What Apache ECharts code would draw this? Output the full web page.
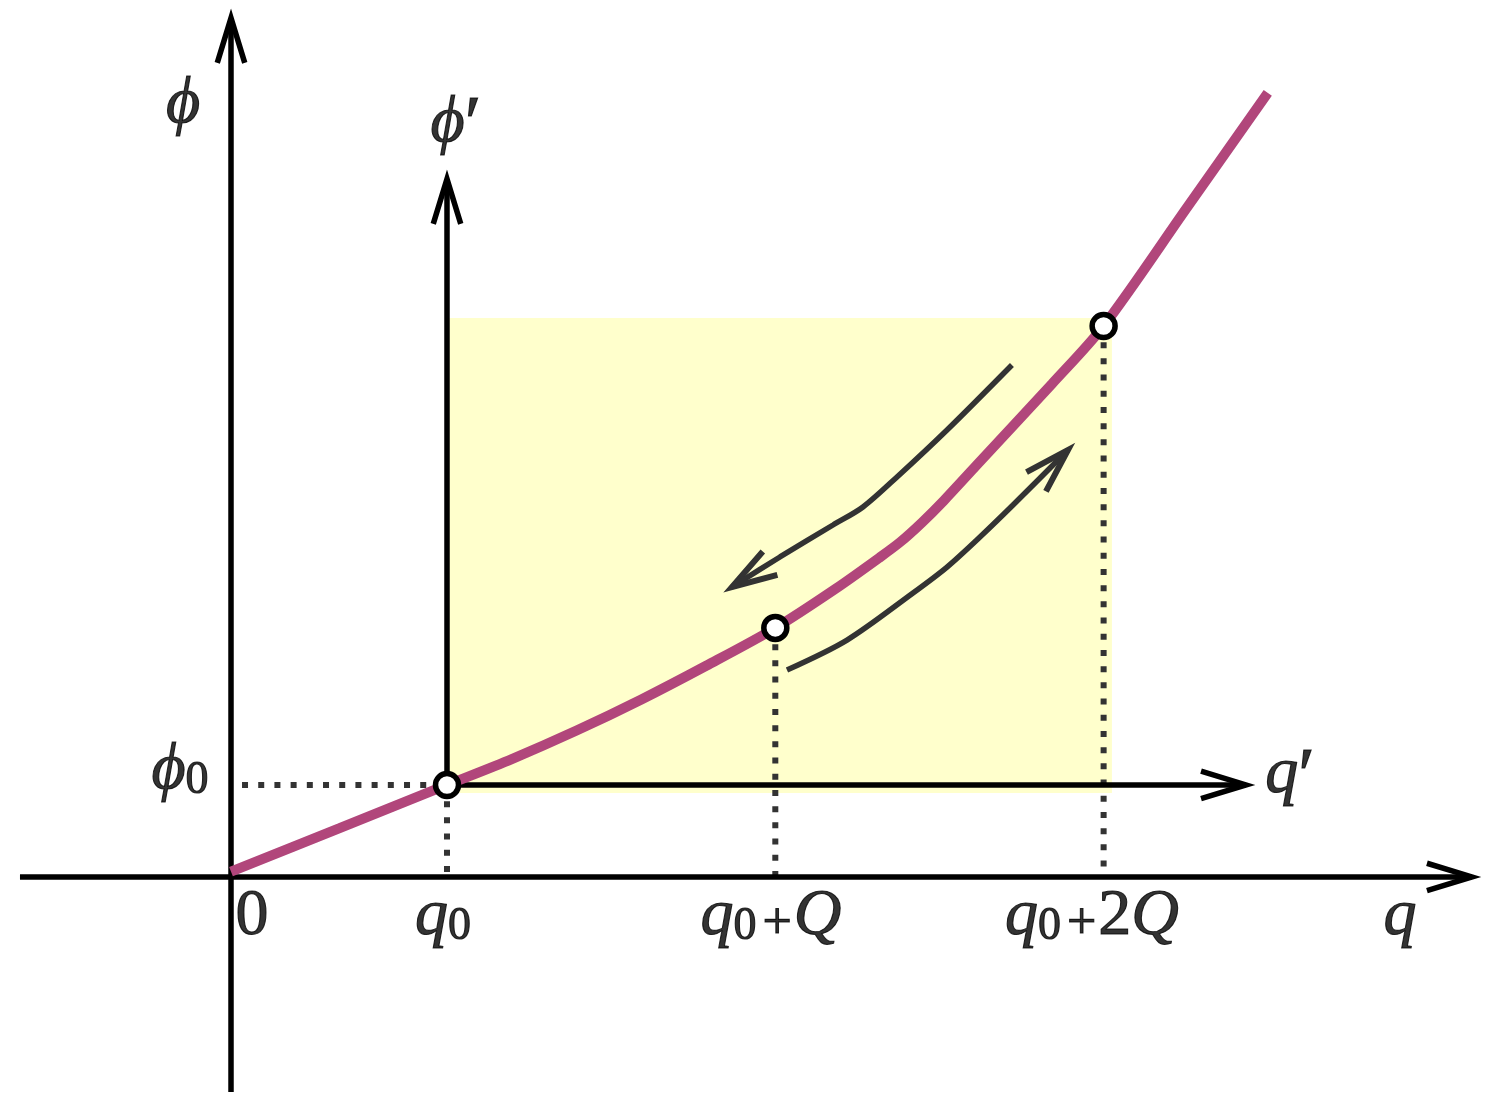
<!DOCTYPE html>
<html>
<head>
<meta charset="utf-8">
<script src="https://cdn.jsdelivr.net/npm/echarts@6/dist/echarts.min.js"></script>
<style>
html,body{margin:0;padding:0;background:#fff;}
#chart{width:1495px;height:1116px;}
</style>
</head>
<body>
<div id="chart"></div>
<script>
// ---- data (diagram units) ----
const qRange = [-2.139, 11.704];
const phiRange = [-2.213, 8.12];

const keyQ = [2.0, 5.04, 8.08];          // q0, q0+Q, q0+2Q
const keyPhi = [0.852, 2.306, 5.102];    // phi at those points

const curveQ   = [0, 1, 2, 2.6, 3.2, 3.8, 4.4, 5.04, 5.6, 6.0, 6.2, 6.4, 6.6, 6.9, 7.6, 8.08, 8.85, 9.6];
const curvePhi = [0.05, 0.45, 0.852, 1.092, 1.356, 1.644, 1.956, 2.306, 2.67, 2.954, 3.104, 3.284, 3.484, 3.808, 4.564, 5.102, 6.195, 7.259];

const downQ   = [7.231, 6.630, 6.167, 5.852, 5.574, 5.083, 4.639];
const downPhi = [4.741, 4.139, 3.704, 3.426, 3.259, 2.963, 2.685];
const upQ     = [5.148, 5.704, 6.315, 6.630, 6.935, 7.241, 7.75];
const upPhi   = [1.917, 2.194, 2.630, 2.870, 3.148, 3.444, 3.954];

const rectQ   = [2.0, 8.157];
const rectPhi = [0.778, 5.176];

// axes: [startQ, startPhi, tipQ, tipPhi]
const axesLines = [
  [-1.954, 0, 11.49, 0],
  [0, -1.991, 0, 7.954],
  [2.0, 0.852, 9.398, 0.852],
  [2.0, 0.852, 2.0, 6.463]
];

// dotted guides: [fromQ, fromPhi, toQ, toPhi]
const guides = [
  [0.102, 0.852, 2.0, 0.852],
  [2.0, 0.852, 2.0, 0],
  [5.04, 2.306, 5.04, 0],
  [8.08, 5.102, 8.08, 0]
];

const tickText = ['{r|0}', '{i|q}{s|0}', '{i|q}{s|0}{p|+}{i|Q}', '{i|q}{s|0}{p|+}{r|2}{i|Q}'];
const tickQ = [0.194, 1.963, 5.0, 7.972];
const tickPhi = [-0.37, -0.37, -0.37, -0.37];

const nameText = ['{i|ϕ}', '{i|ϕ}{pr|′}', '{i|ϕ}{s|0}', '{i|q}', '{i|q}{pr|′}'];
const nameQ = [-0.444, 2.083, -0.472, 10.824, 9.806];
const namePhi = [7.15, 6.977, 0.986, -0.37, 0.944];

// ---- drawing ----
const FONT = "'Liberation Serif', 'DejaVu Serif', serif";
const ink = {color: '#000', textBorderColor: '#000', textBorderWidth: 1.1};
const rich = {
  i: Object.assign({fontFamily: FONT, fontStyle: 'italic', fontSize: 66, lineHeight: 66, verticalAlign: 'middle'}, ink),
  r: Object.assign({fontFamily: FONT, fontSize: 66, lineHeight: 66, verticalAlign: 'middle'}, ink),
  s: Object.assign({fontFamily: FONT, fontSize: 46, lineHeight: 34, verticalAlign: 'bottom'}, ink),
  p: Object.assign({fontFamily: FONT, fontSize: 52, lineHeight: 52, verticalAlign: 'bottom', padding: [0, 2, 0, 6]}, ink),
  pr: Object.assign({fontFamily: FONT, fontSize: 76, lineHeight: 66, verticalAlign: 'top'}, ink)
};

function chevron(tip, from, color, w) {
  const dx = tip[0] - from[0], dy = tip[1] - from[1];
  const len = Math.sqrt(dx * dx + dy * dy) || 1;
  const ux = dx / len, uy = dy / len;
  const L = 47, a = 17 * Math.PI / 180;
  const ca = Math.cos(a), sa = Math.sin(a);
  const b1 = [-(ux * ca - uy * sa), -(uy * ca + ux * sa)];
  const b2 = [-(ux * ca + uy * sa), -(uy * ca - ux * sa)];
  return {
    type: 'polyline',
    shape: {points: [[tip[0] + L * b1[0], tip[1] + L * b1[1]], tip, [tip[0] + L * b2[0], tip[1] + L * b2[1]]]},
    style: {stroke: color, lineWidth: w, fill: null, lineJoin: 'miter', miterLimit: 10}
  };
}

const zip = (a, b) => a.map((v, k) => [v, b[k]]);

const series = [];

// yellow rectangle
series.push({
  type: 'custom', z: 1, silent: true,
  data: [[rectQ[0], rectPhi[0], rectQ[1], rectPhi[1]]],
  encode: {x: [0, 2], y: [1, 3]},
  renderItem: function (params, api) {
    const p1 = api.coord([api.value(0), api.value(1)]);
    const p2 = api.coord([api.value(2), api.value(3)]);
    return {
      type: 'rect',
      shape: {x: Math.min(p1[0], p2[0]), y: Math.min(p1[1], p2[1]), width: Math.abs(p2[0] - p1[0]), height: Math.abs(p2[1] - p1[1])},
      style: {fill: '#ffffcc'}
    };
  }
});

// dotted guides
guides.forEach(g => {
  series.push({
    type: 'line', z: 2, silent: true, symbol: 'none',
    data: [[g[0], g[1]], [g[2], g[3]]],
    lineStyle: {color: '#333333', width: 6, type: [6, 10.2], cap: 'butt'}
  });
});

// axes with arrowheads
series.push({
  type: 'custom', z: 3, silent: true,
  data: axesLines,
  encode: {x: [0, 2], y: [1, 3]},
  renderItem: function (params, api) {
    const s = api.coord([api.value(0), api.value(1)]);
    const t = api.coord([api.value(2), api.value(3)]);
    return {
      type: 'group',
      children: [
        {type: 'line', shape: {x1: s[0], y1: s[1], x2: t[0], y2: t[1]}, style: {stroke: '#000', lineWidth: 5.5}},
        chevron(t, s, '#000', 5.5)
      ]
    };
  }
});

// main curve
series.push({
  type: 'line', z: 4, silent: true, symbol: 'none', smooth: 0.3,
  data: zip(curveQ, curvePhi),
  lineStyle: {color: '#b1467b', width: 10, cap: 'butt'}
});

// curved arrows
[[downQ, downPhi], [upQ, upPhi]].forEach(arr => {
  series.push({
    type: 'line', z: 5, silent: true, symbol: 'none', smooth: 0.3,
    data: zip(arr[0], arr[1]),
    lineStyle: {color: '#333333', width: 5.5, cap: 'butt'}
  });
});

// arrowheads of the curved arrows
const heads = [[downQ, downPhi], [upQ, upPhi]].map(arr => {
  const n = arr[0].length;
  return [arr[0][n - 1], arr[1][n - 1], arr[0][n - 2], arr[1][n - 2]];
});
series.push({
  type: 'custom', z: 5, silent: true,
  data: heads,
  encode: {x: [0, 2], y: [1, 3]},
  renderItem: function (params, api) {
    const t = api.coord([api.value(0), api.value(1)]);
    const s = api.coord([api.value(2), api.value(3)]);
    return chevron(t, s, '#333333', 6);
  }
});

// circles
series.push({
  type: 'scatter', z: 6, silent: true,
  symbol: 'circle', symbolSize: 23,
  data: zip(keyQ, keyPhi),
  itemStyle: {color: '#ffffff', borderColor: '#000000', borderWidth: 5.5, opacity: 1}
});

// labels
const labelData = tickText.map((t, k) => ({value: [tickQ[k], tickPhi[k]], name: t}))
  .concat(nameText.map((t, k) => ({value: [nameQ[k], namePhi[k]], name: t})));
series.push({
  type: 'scatter', z: 7, silent: true,
  symbol: 'circle', symbolSize: 1,
  data: labelData,
  itemStyle: {color: 'rgba(0,0,0,0)'},
  label: {
    show: true, position: 'inside',
    formatter: function (p) { return p.name; },
    rich: rich
  },
  labelLayout: {hideOverlap: false}
});

const chart = echarts.init(document.getElementById('chart'), null, {renderer: 'canvas'});
chart.setOption({
  animation: false,
  backgroundColor: '#ffffff',
  grid: {left: 0, right: 0, top: 0, bottom: 0, containLabel: false},
  xAxis: {type: 'value', min: qRange[0], max: qRange[1], show: false},
  yAxis: {type: 'value', min: phiRange[0], max: phiRange[1], show: false},
  series: series
});
</script>
</body>
</html>
